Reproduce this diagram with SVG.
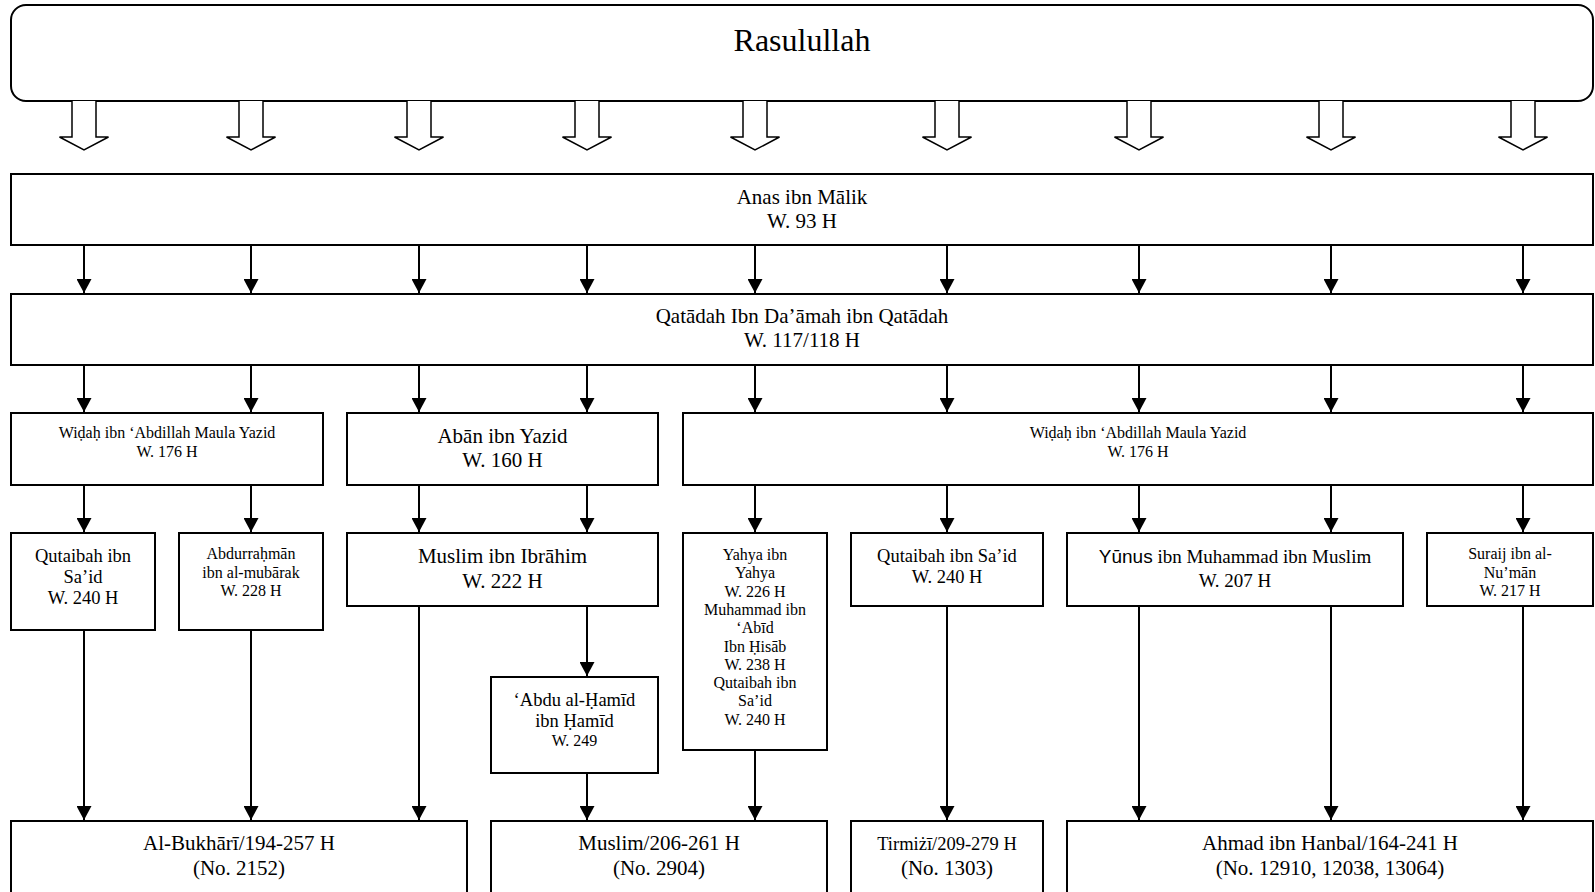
<svg xmlns="http://www.w3.org/2000/svg" width="1595" height="892" viewBox="0 0 1595 892">
<style>
.box{fill:#fff;stroke:#000;stroke-width:2}
.t{font-family:"Liberation Serif","Times New Roman",serif;fill:#000;text-anchor:middle}
.c{stroke:#000;stroke-width:2;fill:none}
.h{fill:#fff;stroke:#000;stroke-width:1.5}
</style>
<defs>
<marker id="ah" markerUnits="userSpaceOnUse" markerWidth="14" markerHeight="15" refX="14" refY="7.5" orient="auto">
<path d="M0,0 L14,7.5 L0,15 z" fill="#000"/>
</marker>
</defs>
<rect width="1595" height="892" fill="#fff"/>

<g id="rasulullah">
<rect class="box" x="11" y="5" width="1582" height="96" rx="15"/>
<text class="t" x="802" y="51" font-size="32">Rasulullah</text>
</g>

<g id="hollow-arrows">
<path class="h" d="M72,101 V137 H59.5 L84,150 L108.5,137 H96 V101"/>
<path class="h" d="M239,101 V137 H226.5 L251,150 L275.5,137 H263 V101"/>
<path class="h" d="M407,101 V137 H394.5 L419,150 L443.5,137 H431 V101"/>
<path class="h" d="M575,101 V137 H562.5 L587,150 L611.5,137 H599 V101"/>
<path class="h" d="M743,101 V137 H730.5 L755,150 L779.5,137 H767 V101"/>
<path class="h" d="M935,101 V137 H922.5 L947,150 L971.5,137 H959 V101"/>
<path class="h" d="M1127,101 V137 H1114.5 L1139,150 L1163.5,137 H1151 V101"/>
<path class="h" d="M1319,101 V137 H1306.5 L1331,150 L1355.5,137 H1343 V101"/>
<path class="h" d="M1511,101 V137 H1498.5 L1523,150 L1547.5,137 H1535 V101"/>
</g>

<g id="anas">
<rect class="box" x="11" y="174" width="1582" height="71"/>
<text class="t" x="802" y="204" font-size="21">Anas ibn Mālik</text>
<text class="t" x="802" y="228" font-size="21">W. 93 H</text>
</g>

<g id="qatadah">
<rect class="box" x="11" y="294" width="1582" height="71"/>
<text class="t" x="802" y="323" font-size="21">Qatādah Ibn Da’āmah ibn Qatādah</text>
<text class="t" x="802" y="347" font-size="21">W. 117/118 H</text>
</g>

<g id="widah-left">
<rect class="box" x="11" y="413" width="312" height="72"/>
<text class="t" x="167" y="438" font-size="16">Wiḍaḥ ibn ‘Abdillah Maula Yazid</text>
<text class="t" x="167" y="457" font-size="16">W. 176 H</text>
</g>

<g id="aban">
<rect class="box" x="347" y="413" width="311" height="72"/>
<text class="t" x="502.5" y="443" font-size="21">Abān ibn Yazid</text>
<text class="t" x="502.5" y="467" font-size="21">W. 160 H</text>
</g>

<g id="widah-right">
<rect class="box" x="683" y="413" width="910" height="72"/>
<text class="t" x="1138" y="438" font-size="16">Wiḍaḥ ibn ‘Abdillah Maula Yazid</text>
<text class="t" x="1138" y="457" font-size="16">W. 176 H</text>
</g>

<g id="qutaibah-1">
<rect class="box" x="11" y="533" width="144" height="97"/>
<text class="t" x="83" y="562" font-size="18.5">Qutaibah ibn</text>
<text class="t" x="83" y="583" font-size="18.5">Sa’id</text>
<text class="t" x="83" y="604" font-size="18.5">W. 240 H</text>
</g>

<g id="abdurrahman">
<rect class="box" x="179" y="533" width="144" height="97"/>
<text class="t" x="251" y="559" font-size="16">Abdurraḥmān</text>
<text class="t" x="251" y="577.5" font-size="16">ibn al-mubārak</text>
<text class="t" x="251" y="596" font-size="16">W. 228 H</text>
</g>

<g id="muslim-ibrahim">
<rect class="box" x="347" y="533" width="311" height="73"/>
<text class="t" x="502.5" y="563" font-size="21">Muslim ibn Ibrāhim</text>
<text class="t" x="502.5" y="588" font-size="21">W. 222 H</text>
</g>

<g id="yahya">
<rect class="box" x="683" y="533" width="144" height="217"/>
<text class="t" x="755" y="560" font-size="16">Yahya ibn</text>
<text class="t" x="755" y="578.3" font-size="16">Yahya</text>
<text class="t" x="755" y="596.6" font-size="16">W. 226 H</text>
<text class="t" x="755" y="614.9" font-size="16">Muhammad ibn</text>
<text class="t" x="755" y="633.2" font-size="16">‘Abīd</text>
<text class="t" x="755" y="651.5" font-size="16">Ibn Ḥisāb</text>
<text class="t" x="755" y="669.8" font-size="16">W. 238 H</text>
<text class="t" x="755" y="688.1" font-size="16">Qutaibah ibn</text>
<text class="t" x="755" y="706.4" font-size="16">Sa’id</text>
<text class="t" x="755" y="724.7" font-size="16">W. 240 H</text>
</g>

<g id="qutaibah-2">
<rect class="box" x="851" y="533" width="192" height="73"/>
<text class="t" x="947" y="562" font-size="18.5">Qutaibah ibn Sa’id</text>
<text class="t" x="947" y="583" font-size="18.5">W. 240 H</text>
</g>

<g id="yunus">
<rect class="box" x="1067" y="533" width="336" height="73"/>
<text class="t" x="1235" y="563" font-size="19"><tspan font-family="Liberation Sans, Arial, sans-serif">Yūnus</tspan> ibn Muhammad ibn Muslim</text>
<text class="t" x="1235" y="587" font-size="19">W. 207 H</text>
</g>

<g id="suraij">
<rect class="box" x="1427" y="533" width="166" height="73"/>
<text class="t" x="1510" y="559" font-size="16">Suraij ibn al-</text>
<text class="t" x="1510" y="577.5" font-size="16">Nu’mān</text>
<text class="t" x="1510" y="596" font-size="16">W. 217 H</text>
</g>

<g id="abdu-al-hamid">
<rect class="box" x="491" y="677" width="167" height="96"/>
<text class="t" x="574.5" y="706" font-size="18.5">‘Abdu al-Ḥamīd</text>
<text class="t" x="574.5" y="727" font-size="18.5">ibn Ḥamīd</text>
<text class="t" x="574.5" y="746" font-size="16">W. 249</text>
</g>

<g id="bukhari">
<rect class="box" x="11" y="821" width="456" height="80"/>
<text class="t" x="239" y="850" font-size="21">Al-Bukhārī/194-257 H</text>
<text class="t" x="239" y="875" font-size="21">(No. 2152)</text>
</g>

<g id="muslim">
<rect class="box" x="491" y="821" width="336" height="80"/>
<text class="t" x="659" y="850" font-size="21">Muslim/206-261 H</text>
<text class="t" x="659" y="875" font-size="21">(No. 2904)</text>
</g>

<g id="tirmizi">
<rect class="box" x="851" y="821" width="192" height="80"/>
<text class="t" x="947" y="850" font-size="18.5">Tirmiżī/209-279 H</text>
<text class="t" x="947" y="875" font-size="21">(No. 1303)</text>
</g>

<g id="ahmad">
<rect class="box" x="1067" y="821" width="526" height="80"/>
<text class="t" x="1330" y="850" font-size="21">Ahmad ibn Hanbal/164-241 H</text>
<text class="t" x="1330" y="875" font-size="21">(No. 12910, 12038, 13064)</text>
</g>

<g id="connectors" marker-end="url(#ah)">
<path class="c" d="M84,245 V293" marker-end="url(#ah)"/>
<path class="c" d="M251,245 V293" marker-end="url(#ah)"/>
<path class="c" d="M419,245 V293" marker-end="url(#ah)"/>
<path class="c" d="M587,245 V293" marker-end="url(#ah)"/>
<path class="c" d="M755,245 V293" marker-end="url(#ah)"/>
<path class="c" d="M947,245 V293" marker-end="url(#ah)"/>
<path class="c" d="M1139,245 V293" marker-end="url(#ah)"/>
<path class="c" d="M1331,245 V293" marker-end="url(#ah)"/>
<path class="c" d="M1523,245 V293" marker-end="url(#ah)"/>

<path class="c" d="M84,365 V412" marker-end="url(#ah)"/>
<path class="c" d="M251,365 V412" marker-end="url(#ah)"/>
<path class="c" d="M419,365 V412" marker-end="url(#ah)"/>
<path class="c" d="M587,365 V412" marker-end="url(#ah)"/>
<path class="c" d="M755,365 V412" marker-end="url(#ah)"/>
<path class="c" d="M947,365 V412" marker-end="url(#ah)"/>
<path class="c" d="M1139,365 V412" marker-end="url(#ah)"/>
<path class="c" d="M1331,365 V412" marker-end="url(#ah)"/>
<path class="c" d="M1523,365 V412" marker-end="url(#ah)"/>

<path class="c" d="M84,485 V532" marker-end="url(#ah)"/>
<path class="c" d="M251,485 V532" marker-end="url(#ah)"/>
<path class="c" d="M419,485 V532" marker-end="url(#ah)"/>
<path class="c" d="M587,485 V532" marker-end="url(#ah)"/>
<path class="c" d="M755,485 V532" marker-end="url(#ah)"/>
<path class="c" d="M947,485 V532" marker-end="url(#ah)"/>
<path class="c" d="M1139,485 V532" marker-end="url(#ah)"/>
<path class="c" d="M1331,485 V532" marker-end="url(#ah)"/>
<path class="c" d="M1523,485 V532" marker-end="url(#ah)"/>

<path class="c" d="M84,630 V820" marker-end="url(#ah)"/>
<path class="c" d="M251,630 V820" marker-end="url(#ah)"/>
<path class="c" d="M419,606 V820" marker-end="url(#ah)"/>
<path class="c" d="M587,606 V676" marker-end="url(#ah)"/>
<path class="c" d="M587,773 V820" marker-end="url(#ah)"/>
<path class="c" d="M755,750 V820" marker-end="url(#ah)"/>
<path class="c" d="M947,606 V820" marker-end="url(#ah)"/>
<path class="c" d="M1139,606 V820" marker-end="url(#ah)"/>
<path class="c" d="M1331,606 V820" marker-end="url(#ah)"/>
<path class="c" d="M1523,606 V820" marker-end="url(#ah)"/>
</g>
</svg>
